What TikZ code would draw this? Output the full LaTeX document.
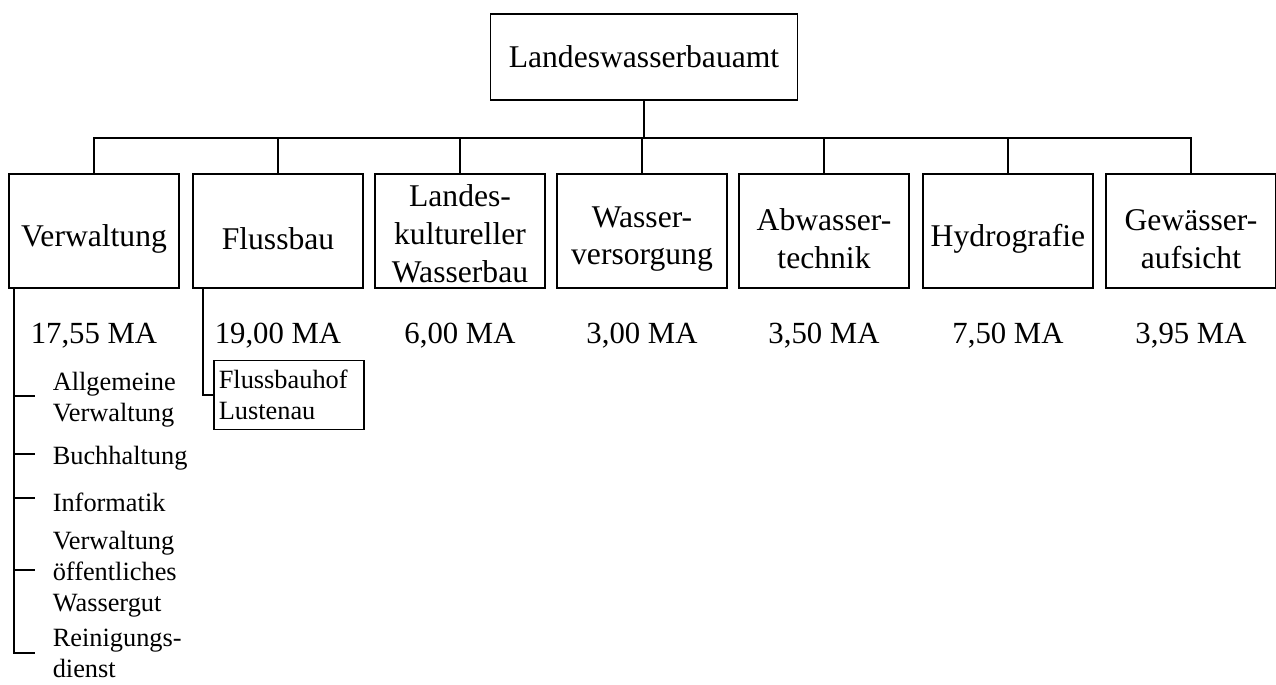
\documentclass[tikz,border=0pt]{standalone}
\usepackage{fontspec}
\setmainfont{Liberation Serif}
\usetikzlibrary{positioning,calc}

\begin{document}
\begin{tikzpicture}[
  x=0.02cm,y=-0.02cm,
  line width=0.9pt,
  amt/.style={draw,minimum width=6.14cm,minimum height=1.72cm,font=\fontsize{18}{21}\selectfont},
  abt/.style={draw,minimum width=3.4cm,minimum height=2.28cm},
  abttext/.style={align=center,inner sep=1pt,yshift=-0.16cm,font=\fontsize{18}{21.5}\selectfont},
  ma/.style={font=\fontsize{17.5}{21}\selectfont},
  sub/.style={anchor=west,align=left,inner xsep=0.34cm,inner ysep=1pt,font=\fontsize{15}{17.6}\selectfont},
  hof/.style={draw,anchor=west,text width=2.8cm,inner sep=0.1cm,minimum height=1.38cm,align=left,font=\fontsize{15}{17.6}\selectfont}
]
  \useasboundingbox (0,0) rectangle (1276,684);
  % Top box
  \node[amt] (lwba) at (644,57) {Landeswasserbauamt};
  % Departments
  \node[abt,label={[abttext]center:Verwaltung}]                    (verw)  at (94,231)   {};
  \node[abt,label={[abttext]center:Flussbau}]                      (fluss) at (278,231)  {};
  \node[abt,label={[abttext,yshift=0.1cm]center:{Landes-\\kultureller\\Wasserbau}}] (lkw) at (460,231) {};
  \node[abt,label={[abttext]center:{Wasser-\\versorgung}}]         (wv)    at (642,231)  {};
  \node[abt,label={[abttext]center:{Abwasser-\\technik}}]          (awt)   at (824,231)  {};
  \node[abt,label={[abttext]center:Hydrografie}]                   (hydro) at (1008,231) {};
  \node[abt,label={[abttext]center:{Gewässer-\\aufsicht}}]         (gwa)   at (1191,231) {};
  % Staff numbers
  \node[ma] (maverw)  at (94,336)   {17,55 MA};
  \node[ma] (mafluss) at (278,336)  {19,00 MA};
  \node[ma] (malkw)   at (460,336)  {6,00 MA};
  \node[ma] (mawv)    at (642,336)  {3,00 MA};
  \node[ma] (maawt)   at (824,336)  {3,50 MA};
  \node[ma] (mahydro) at (1008,336) {7,50 MA};
  \node[ma] (magwa)   at (1191,336) {3,95 MA};
  % Connectors top level
  \coordinate (bar) at (0,138);
  \draw (lwba.south) -- (lwba.south |- bar);
  \draw (verw.north) -- (verw.north |- bar) -- (gwa.north |- bar) -- (gwa.north);
  \draw (fluss.north) -- (fluss.north |- bar);
  \draw (lkw.north) -- (lkw.north |- bar);
  \draw (wv.north) -- (wv.north |- bar);
  \draw (awt.north) -- (awt.north |- bar);
  \draw (hydro.north) -- (hydro.north |- bar);
  % Verwaltung units
  \node[sub] (allg) at (35,400) {Allgemeine\\Verwaltung};
  \node[sub] (buch) at (35,458) {Buchhaltung};
  \node[sub] (info) at (35,502) {Informatik};
  \node[sub] (voew) at (35,574) {Verwaltung\\öffentliches\\Wassergut};
  \node[sub] (rein) at (35,653) {Reinigungs-\\dienst};
  \coordinate (vtrunk) at ([xshift=0.12cm]verw.south west);
  \draw (vtrunk) |- (rein.west);
  \draw (vtrunk |- allg.west) ++(0,0.08cm) -- ([yshift=0.08cm]allg.west);
  \draw (vtrunk |- buch.west) ++(0,0.08cm) -- ([yshift=0.08cm]buch.west);
  \draw (vtrunk |- info.west) ++(0,0.08cm) -- ([yshift=0.08cm]info.west);
  \draw (vtrunk |- voew.west) ++(0,0.08cm) -- ([yshift=0.08cm]voew.west);
  % Flussbau unit
  \node[hof] (fbh) at (213,395) {Flussbauhof\\Lustenau};
  \draw ([xshift=-1.5cm]fluss.south) |- (fbh.west);
\end{tikzpicture}
\end{document}
